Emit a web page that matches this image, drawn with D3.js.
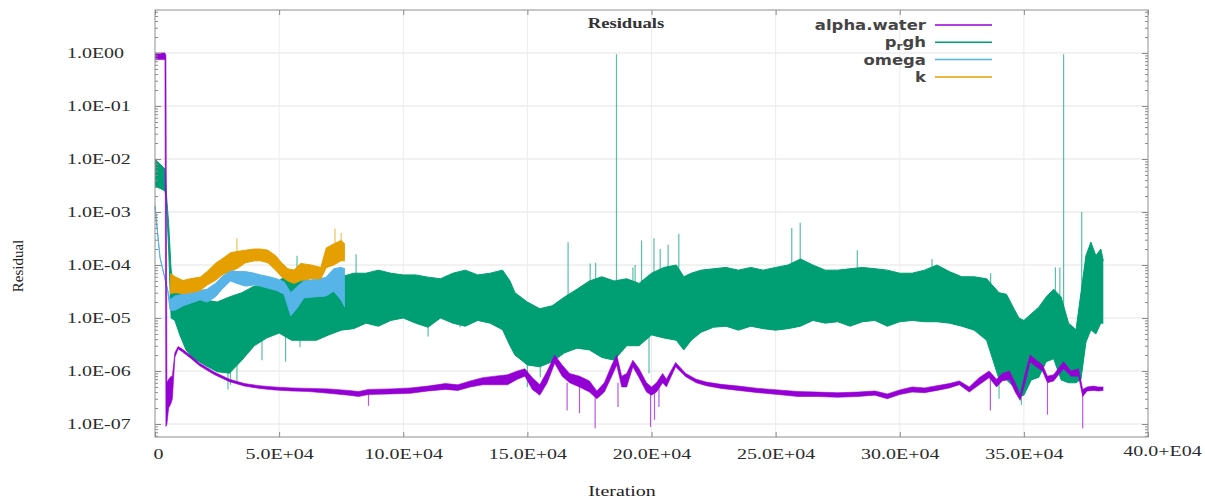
<!DOCTYPE html>
<html>
<head>
<meta charset="utf-8">
<script src="https://cdn.jsdelivr.net/npm/d3@7"></script>
<style>
  body { margin: 0; background: #fff; }
  svg { display: block; }
</style>
</head>
<body>
<div id="chart"></div>
<script>
// Axis ticks and labels
const xTicks = [0, 50000, 100000, 150000, 200000, 250000, 300000, 350000, 400000];
const xTickLabels = ["0", "5.0E+04", "10.0E+04", "15.0E+04", "20.0E+04", "25.0E+04", "30.0E+04", "35.0E+04", "40.0+E04"];
const yTicks = [1, 1e-1, 1e-2, 1e-3, 1e-4, 1e-5, 1e-6, 1e-7];
const yTickLabels = ["1.0E00", "1.0E-01", "1.0E-02", "1.0E-03", "1.0E-04", "1.0E-05", "1.0E-06", "1.0E-07"];
const seriesNames = ["alpha.water", "p_rgh", "omega", "k"];

// Residual envelopes: [iteration, lower, upper]
const alphaWater = [
  [0, 0.75, 1.0], [4000, 0.75, 1.0], [4400, 9e-8, 0.9], [4800, 1.0e-7, 6e-7], [5500, 2e-7, 7e-7],
  [6500, 2.5e-7, 8e-7], [7000, 3e-7, 8e-7], [8000, 1.8e-6, 2.2e-6], [9300, 2.6e-6, 2.9e-6],
  [11000, 2.3e-6, 2.6e-6], [14000, 1.8e-6, 2.0e-6], [18000, 1.25e-6, 1.4e-6], [24000, 8.5e-7, 9.5e-7],
  [30000, 6.3e-7, 7e-7], [36000, 5.2e-7, 5.8e-7], [42000, 4.7e-7, 5.3e-7], [48000, 4.4e-7, 5.0e-7],
  [55000, 4.2e-7, 4.8e-7], [62000, 4.1e-7, 4.7e-7], [70000, 3.8e-7, 4.6e-7], [78000, 3.5e-7, 4.3e-7],
  [82000, 3.3e-7, 4.1e-7], [86000, 3.6e-7, 4.5e-7], [95000, 3.7e-7, 4.6e-7], [103000, 3.8e-7, 4.8e-7],
  [110000, 4.2e-7, 5.2e-7], [117000, 4.5e-7, 5.8e-7], [122000, 4.3e-7, 5.5e-7], [127000, 5e-7, 6.5e-7],
  [132000, 5.5e-7, 7.5e-7], [137000, 5.5e-7, 8e-7], [142000, 5.5e-7, 8.5e-7], [146000, 7e-7, 1.0e-6],
  [149000, 8e-7, 1.1e-6], [152000, 4.5e-7, 7.5e-7], [155000, 3.5e-7, 5.5e-7], [158000, 6e-7, 1.0e-6],
  [161000, 1.4e-6, 2.0e-6], [164000, 8e-7, 1.3e-6], [167000, 6e-7, 9e-7], [171000, 5e-7, 8e-7],
  [175000, 4e-7, 6.5e-7], [178000, 3e-7, 4.2e-7], [181000, 4e-7, 6e-7], [184000, 8e-7, 1.3e-6],
  [186000, 1.3e-6, 2.0e-6], [188000, 5e-7, 8e-7], [190000, 5e-7, 9e-7], [192500, 1.2e-6, 1.6e-6],
  [195000, 7.5e-7, 1.1e-6], [198000, 4e-7, 6e-7], [200000, 3.5e-7, 5e-7], [202000, 4e-7, 6e-7],
  [204500, 6e-7, 9e-7], [206000, 5e-7, 7e-7], [209700, 1.2e-6, 1.45e-6], [213800, 7.8e-7, 9e-7],
  [218000, 6e-7, 7e-7], [222000, 5.3e-7, 6.2e-7], [228000, 4.7e-7, 5.6e-7], [235000, 4.3e-7, 5.2e-7],
  [243000, 3.9e-7, 4.7e-7], [251000, 3.6e-7, 4.4e-7], [259000, 3.3e-7, 4.1e-7], [267000, 3.3e-7, 4e-7],
  [275000, 3.2e-7, 3.9e-7], [283000, 3.3e-7, 4.0e-7], [290000, 3.5e-7, 4.2e-7], [295000, 3.0e-7, 3.7e-7],
  [300000, 3.6e-7, 4.4e-7], [305000, 4.0e-7, 5.0e-7], [310000, 3.9e-7, 4.8e-7], [315000, 4.3e-7, 5.3e-7],
  [320000, 4.8e-7, 5.8e-7], [324000, 5.5e-7, 6.5e-7], [328000, 4.0e-7, 5.0e-7], [332000, 5.5e-7, 7.5e-7],
  [336000, 7.5e-7, 1.0e-6], [339000, 5e-7, 7e-7], [341300, 6.5e-7, 9e-7], [344200, 7e-7, 1.0e-6],
  [346500, 4e-7, 6e-7], [348500, 2.8e-7, 3.5e-7], [350500, 6e-7, 9e-7], [352500, 1.5e-6, 2e-6],
  [355000, 1.2e-6, 1.6e-6], [357500, 1.0e-6, 1.3e-6], [359500, 6e-7, 8e-7], [362000, 6.5e-7, 8.5e-7],
  [364400, 9e-7, 1.2e-6], [366000, 1.1e-6, 1.5e-6], [369000, 8e-7, 1.0e-6], [372000, 8e-7, 1.1e-6],
  [373700, 3.3e-7, 4.5e-7], [375500, 4.2e-7, 5e-7], [378000, 4.3e-7, 5.2e-7], [380000, 4.2e-7, 5e-7],
  [382000, 4.3e-7, 5e-7]
];

const prgh = [
  [0, 3.0e-3, 1.0e-2], [2000, 2.8e-3, 8.0e-3], [4000, 2.5e-3, 6.5e-3], [4500, 2.0e-3, 2.5e-3],
  [5500, 2.0e-4, 6.0e-4], [6500, 1.0e-5, 8e-5], [8000, 9e-6, 3.3e-5], [10000, 4.8e-6, 3e-5],
  [12500, 2.5e-6, 2.5e-5], [15000, 1.8e-6, 2.5e-5], [20000, 1.3e-6, 2.2e-5], [25000, 9.7e-7, 2.0e-5],
  [30000, 9.1e-7, 2.5e-5], [35000, 1.6e-6, 3.0e-5], [40000, 3e-6, 4e-5], [45000, 4.2e-6, 4e-5],
  [50000, 5.2e-6, 5e-5], [55000, 3.8e-6, 8e-5], [60000, 3.8e-6, 6e-5], [65000, 3.8e-6, 4e-5],
  [70000, 4.8e-6, 5e-5], [75000, 5.9e-6, 6e-5], [80000, 6.3e-6, 7e-5], [85000, 8e-6, 7e-5],
  [90000, 7e-6, 8e-5], [95000, 9e-6, 7e-5], [100000, 1e-5, 6.5e-5], [105000, 8e-6, 6.5e-5],
  [110000, 6.7e-6, 5.9e-5], [115000, 1e-5, 5.5e-5], [120000, 8e-6, 7e-5], [125000, 7e-6, 8e-5],
  [130000, 9e-6, 6.5e-5], [135000, 8e-6, 7e-5], [140000, 6e-6, 8e-5], [143000, 3e-6, 5e-5],
  [145000, 2e-6, 3e-5], [150000, 1.3e-6, 2e-5], [155000, 1.2e-6, 1.5e-5], [160000, 1.5e-6, 1.7e-5],
  [165000, 2.2e-6, 2.5e-5], [170000, 2.7e-6, 3.5e-5], [175000, 2.5e-6, 5e-5], [180000, 1.8e-6, 6e-5],
  [185000, 1.6e-6, 5e-5], [190000, 3e-6, 5.5e-5], [195000, 3e-6, 4.5e-5], [200000, 4.8e-6, 7e-5],
  [205000, 4.2e-6, 9e-5], [210000, 3.8e-6, 1e-4], [213000, 2.5e-6, 6e-5], [216000, 3.8e-6, 7e-5],
  [220000, 5.4e-6, 8e-5], [225000, 6.7e-6, 8.5e-5], [230000, 7e-6, 9e-5], [235000, 5.9e-6, 8e-5],
  [240000, 7e-6, 9e-5], [245000, 6.3e-6, 8e-5], [250000, 5.9e-6, 9e-5], [255000, 6.3e-6, 1.0e-4],
  [260000, 7e-6, 1.3e-4], [265000, 9e-6, 1e-4], [270000, 8e-6, 8e-5], [275000, 8.5e-6, 8e-5],
  [280000, 7e-6, 8.5e-5], [285000, 8.5e-6, 9e-5], [290000, 9e-6, 8.5e-5], [295000, 7e-6, 8e-5],
  [300000, 8.5e-6, 7e-5], [305000, 9e-6, 7e-5], [310000, 8.5e-6, 8e-5], [315000, 8.5e-6, 1e-4],
  [320000, 8e-6, 7.5e-5], [325000, 7e-6, 6e-5], [330000, 5.9e-6, 6e-5], [335000, 3.8e-6, 5.5e-5],
  [340000, 7e-7, 3e-5], [343000, 6.8e-7, 2.8e-5], [346000, 5e-7, 1.5e-5], [348000, 3.3e-7, 1e-5],
  [350000, 3.5e-7, 9e-6], [353000, 6.8e-7, 1.2e-5], [356000, 7.6e-7, 1.6e-5], [359000, 1.5e-6, 2.5e-5],
  [362000, 1.7e-6, 3.5e-5], [365000, 6.8e-7, 2.5e-5], [368000, 6e-7, 8e-6], [371000, 6e-7, 6e-6],
  [373000, 7e-7, 3e-5], [375000, 3.5e-6, 1.5e-4], [377000, 6e-6, 2.7e-4], [379000, 5e-6, 1.5e-4],
  [381000, 8e-6, 2.0e-4], [382000, 8e-6, 1.2e-4]
];

const omega = [
  [0, 1.3e-3, 1.3e-3], [2000, 1.4e-4, 1.4e-4], [5000, 3.5e-5, 3.5e-5], [6100, 1.4e-5, 2.2e-5],
  [8000, 1.4e-5, 2.6e-5], [11300, 1.7e-5, 2.8e-5], [14200, 1.9e-5, 3.0e-5], [18200, 2.2e-5, 3.3e-5],
  [21000, 2.0e-5, 3.5e-5], [24300, 2.5e-5, 4.5e-5], [27000, 3.5e-5, 6e-5], [30400, 5.0e-5, 8.0e-5],
  [33000, 4.5e-5, 7.5e-5], [36400, 4.0e-5, 7.5e-5], [40000, 4.2e-5, 7e-5], [42500, 4.0e-5, 6.5e-5],
  [46000, 3.6e-5, 6e-5], [49000, 3.3e-5, 5.5e-5], [52000, 2.8e-5, 4.8e-5], [54700, 1.1e-5, 3.0e-5],
  [57500, 1.6e-5, 4.0e-5], [60000, 2.4e-5, 5.0e-5], [64000, 2.5e-5, 5.3e-5], [68800, 2.6e-5, 5.8e-5],
  [72000, 3.2e-5, 8.5e-5], [74900, 2.2e-5, 9.0e-5], [76500, 1.6e-5, 8.5e-5]
];

const kRes = [
  [6100, 2.9e-5, 6.9e-5], [8100, 3.0e-5, 6e-5], [11300, 2.9e-5, 5.1e-5], [14200, 3.0e-5, 5.5e-5],
  [18200, 3.3e-5, 5.9e-5], [21000, 4.2e-5, 7.5e-5], [24300, 5.1e-5, 1.07e-4], [27000, 6.5e-5, 1.3e-4],
  [30400, 7.9e-5, 1.7e-4], [33000, 8.5e-5, 1.8e-4], [36400, 1.1e-4, 1.9e-4], [40000, 1.2e-4, 2.0e-4],
  [42500, 1.2e-4, 2.0e-4], [45500, 1.1e-4, 1.9e-4], [48600, 8e-5, 1.5e-4], [51000, 6e-5, 1.1e-4],
  [53500, 5e-5, 8.5e-5], [56000, 4.5e-5, 8e-5], [58700, 5.1e-5, 1.07e-4], [62800, 5.5e-5, 1.0e-4],
  [66800, 5.5e-5, 9e-5], [69000, 8.9e-5, 2.1e-4], [72000, 1.0e-4, 2.5e-4], [74900, 1.2e-4, 2.9e-4],
  [76500, 1.2e-4, 2.5e-4]
];

// Isolated spikes: [iteration, lower, upper]
const prghSpikes = [
  [185900, 1.5e-6, 0.95], [366000, 7e-7, 0.95], [166400, 5e-6, 2.7e-4], [259900, 2e-5, 6.3e-4],
  [373300, 1e-6, 1e-3], [201000, 1e-5, 3.2e-4], [211000, 1e-5, 3.9e-4], [196000, 1e-5, 2.9e-4],
  [177500, 1e-5, 1.1e-4], [192500, 1e-5, 9e-5], [256500, 2e-5, 5e-4], [336600, 1e-5, 7e-5],
  [364500, 1e-6, 9e-5], [313000, 2e-5, 1.3e-4], [30400, 5.5e-7, 5e-6], [52600, 1.5e-6, 1e-5],
  [110000, 4.5e-6, 2e-5], [150000, 5e-7, 3e-6], [199000, 9e-7, 1e-5], [340000, 3e-7, 3e-6],
  [349000, 2.3e-7, 3e-6], [29400, 4.5e-7, 3e-6], [33000, 6e-7, 4e-6], [43100, 1.6e-6, 8e-6],
  [58400, 2.8e-6, 1e-5], [57200, 3e-5, 1.5e-4], [81000, 3e-5, 1.6e-4], [122900, 6.7e-6, 2e-5],
  [155200, 7.6e-7, 3e-6], [175300, 2e-5, 1.07e-4], [193400, 2e-5, 1e-4], [203500, 1e-5, 2e-4],
  [206700, 1e-5, 2.4e-4], [282900, 2e-5, 1.9e-4], [362700, 1e-5, 9e-5]
];
const alphaSpikes = [
  [86000, 2.2e-7, 4e-7], [166000, 1.8e-7, 6e-7], [171000, 1.6e-7, 6e-7], [177300, 8.3e-8, 4e-7],
  [186500, 2.1e-7, 6e-7], [199600, 8.8e-8, 4e-7], [201200, 1.2e-7, 4e-7], [203000, 2.1e-7, 5e-7],
  [336500, 1.8e-7, 7e-7], [359500, 1.5e-7, 6e-7], [373700, 8.3e-8, 4e-7]
];
const kSpikes = [[33000, 1.5e-4, 3.2e-4], [72500, 1.5e-4, 4.9e-4], [75000, 1.5e-4, 4e-4]];

const colors = ["#9400d3", "#009e73", "#56b4e9", "#e69f00"];

function drawChart() {
  const W = 1205, H = 503;
  const margin = { top: 10, right: 57, bottom: 66, left: 155 },
    width = W - margin.left - margin.right,
    height = H - margin.top - margin.bottom;

  const svg = d3.select("#chart").append("svg").attr("width", W).attr("height", H);
  const g = svg.append("g").attr("transform", `translate(${margin.left},${margin.top})`);

  const x = d3.scaleLinear().domain([0, 400000]).range([0, width]);
  const y = d3.scaleLog().domain([Math.pow(10, -7.245), Math.pow(10, 0.811)]).range([height, 0]);

  // Grid lines
  g.append("g").selectAll("line").data(yTicks).enter().append("line")
    .attr("x1", 0).attr("x2", width)
    .attr("y1", (d) => y(d)).attr("y2", (d) => y(d))
    .attr("stroke", "#e4e4e4");
  g.append("g").selectAll("line").data(xTicks.slice(1, -1)).enter().append("line")
    .attr("x1", (d) => x(d)).attr("x2", (d) => x(d))
    .attr("y1", 0).attr("y2", height)
    .attr("stroke", "#ececec");

  // Bands and spikes
  const area = d3.area().x((d) => x(d[0])).y0((d) => y(d[1])).y1((d) => y(d[2]));
  const lo = d3.line().x((d) => x(d[0])).y((d) => y(d[1]));
  const hi = d3.line().x((d) => x(d[0])).y((d) => y(d[2]));

  function band(data, color, sw) {
    const b = g.append("g");
    b.append("path").attr("d", area(data)).attr("fill", color);
    b.append("path").attr("d", lo(data)).attr("fill", "none").attr("stroke", color).attr("stroke-width", sw);
    b.append("path").attr("d", hi(data)).attr("fill", "none").attr("stroke", color).attr("stroke-width", sw);
  }
  function spikes(data, color) {
    g.append("g").selectAll("line").data(data).enter().append("line")
      .attr("x1", (d) => x(d[0])).attr("x2", (d) => x(d[0]))
      .attr("y1", (d) => y(d[1])).attr("y2", (d) => y(d[2]))
      .attr("stroke", color).attr("stroke-width", 1.2).attr("stroke-opacity", 0.65);
  }

  band(prgh, colors[1], 1);
  spikes(prghSpikes, colors[1]);
  band(omega, colors[2], 1);
  band(kRes, colors[3], 1);
  spikes(kSpikes, colors[3]);
  band(alphaWater, colors[0], 0.6);
  spikes(alphaSpikes, colors[0]);

  // Minor log ticks
  const minor = [];
  for (let e = -8; e <= 0; e++) for (let m = 2; m <= 9; m++) {
    const v = m * Math.pow(10, e);
    if (v > y.domain()[0] && v < y.domain()[1]) minor.push(v);
  }

  const tickColor = "#8a8a8a";
  function styleAxis(sel) {
    sel.select(".domain").remove();
    sel.selectAll(".tick line").attr("stroke", tickColor);
  }

  g.append("g").call(d3.axisLeft(y).tickValues(minor).tickSize(-3).tickFormat("")).call(styleAxis);
  g.append("g").attr("transform", `translate(${width},0)`)
    .call(d3.axisRight(y).tickValues(minor).tickSize(-3).tickFormat("")).call(styleAxis);
  g.append("g").attr("transform", `translate(${width},0)`)
    .call(d3.axisRight(y).tickValues(yTicks).tickSize(-6).tickFormat("")).call(styleAxis);
  g.append("g").call(d3.axisTop(x).tickValues(xTicks).tickSize(-5).tickFormat("")).call(styleAxis);

  const labelFont = "'Liberation Serif', 'Times New Roman', serif";

  const yAxis = g.append("g")
    .call(d3.axisLeft(y).tickValues(yTicks).tickSize(-6).tickFormat((d, i) => yTickLabels[i]))
    .call(styleAxis);
  yAxis.selectAll(".tick text")
    .attr("x", 67 - margin.left).attr("text-anchor", "start")
    .attr("font-family", labelFont).attr("font-size", 15).attr("fill", "#2b2b2b");

  const xAxis = g.append("g").attr("transform", `translate(0,${height})`)
    .call(d3.axisBottom(x).tickValues(xTicks).tickSize(-5).tickFormat((d, i) => xTickLabels[i]))
    .call(styleAxis);
  xAxis.selectAll(".tick text")
    .attr("y", 11).attr("dy", "0.71em")
    .attr("font-family", labelFont).attr("font-size", 15).attr("fill", "#2b2b2b");
  xAxis.selectAll(".tick text").filter((d, i) => i === 0).attr("text-anchor", "start").attr("dx", -2);
  xAxis.selectAll(".tick text").filter((d, i) => i === xTicks.length - 1).attr("dx", 14).attr("dy", "0.55em");

  // Border
  g.append("rect").attr("width", width).attr("height", height)
    .attr("fill", "none").attr("stroke", "#8f8f8f").attr("stroke-width", 1);

  // Title and axis titles
  svg.append("text").attr("x", 626).attr("y", 28).attr("text-anchor", "middle")
    .attr("font-family", labelFont).attr("font-weight", "bold").attr("font-size", 14)
    .attr("fill", "#333").attr("class", "wide").text("Residuals");
  svg.append("text").attr("x", 622).attr("y", 496).attr("text-anchor", "middle")
    .attr("font-family", labelFont).attr("font-size", 15).attr("fill", "#222")
    .attr("class", "wide").text("Iteration");
  svg.append("text").attr("transform", "translate(23,266) rotate(-90)").attr("text-anchor", "middle")
    .attr("font-family", labelFont).attr("font-size", 15).attr("fill", "#222").text("Residual");

  // Legend
  const legend = svg.append("g").selectAll("g").data(seriesNames).enter().append("g")
    .attr("transform", (d, i) => `translate(0,${25 + i * 17.3})`);
  legend.append("line").attr("x1", 935).attr("x2", 992)
    .attr("stroke", (d, i) => colors[i]).attr("stroke-width", 1.5);
  const lt = legend.append("text").attr("x", 926).attr("y", 5).attr("text-anchor", "end")
    .attr("font-family", "'DejaVu Sans', sans-serif").attr("font-weight", "bold")
    .attr("font-size", 13.5).attr("fill", "#454545").attr("class", "wide legend");
  lt.each(function (d) {
    const t = d3.select(this);
    if (d === "p_rgh") {
      t.append("tspan").text("p");
      t.append("tspan").attr("font-size", 10).attr("dy", 3).text("r");
      t.append("tspan").attr("dy", -3).text("gh");
    } else {
      t.text(d);
    }
  });

  // The source picture is stretched sideways, so widen horizontal text to match.
  svg.selectAll(".tick text, .wide").each(function () {
    const len = this.getComputedTextLength();
    const k = d3.select(this).classed("legend") ? 1.22 : 1.33;
    d3.select(this).attr("textLength", len * k).attr("lengthAdjust", "spacingAndGlyphs");
  });
}

drawChart();
</script>
</body>
</html>
